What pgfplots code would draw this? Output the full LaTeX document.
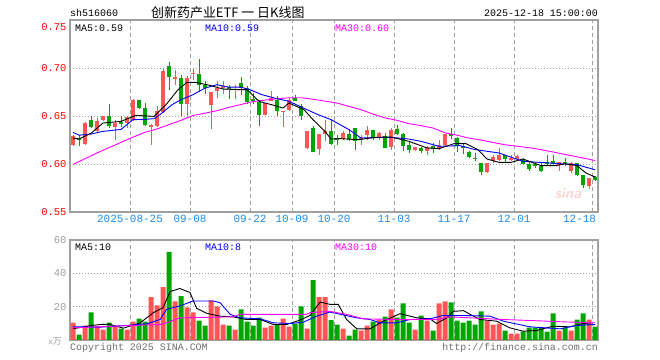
\documentclass[border=0pt]{standalone}
\usepackage{fontspec}
\setmainfont{Liberation Mono}
\newfontfamily\cjk{Noto Sans CJK SC}
\usepackage{pgfplots}
\usepackage{pgfplotstable}
\pgfplotsset{compat=1.18}
\definecolor{kred}{RGB}{255,85,85}
\definecolor{kgreen}{RGB}{0,165,0}
\definecolor{frm}{RGB}{160,160,160}
\definecolor{datec}{RGB}{30,140,230}
\definecolor{mathirty}{RGB}{255,0,255}
\definecolor{maten}{RGB}{0,0,255}

\pgfplotstableread{
i o h l c v
0 0.620 0.630 0.619 0.629 10.5
2 0.621 0.644 0.620 0.643 8.7
4 0.634 0.648 0.633 0.645 8.3
5 0.6455 0.650 0.645 0.6497 6.3
7 0.6385 0.646 0.625 0.643 8.1
9 0.643 0.650 0.638 0.649 6.3
10 0.646 0.668 0.645 0.667 11.1
13 0.6395 0.642 0.620 0.640 25.7
14 0.640 0.660 0.639 0.655 20.8
15 0.654 0.699 0.653 0.6965 31.7
17 0.689 0.698 0.682 0.691 23.2
19 0.663 0.692 0.650 0.690 19.6
20 0.694 0.700 0.688 0.695 16.6
23 0.661 0.675 0.6365 0.675 23.8
24 0.676 0.686 0.669 0.679 20.2
25 0.679 0.686 0.673 0.681 9.3
27 0.677 0.682 0.668 0.6785 6.3
32 0.6513 0.6635 0.6506 0.6635 7.5
33 0.666 0.6764 0.6652 0.6687 8.7
35 0.655 0.6555 0.639 0.6555 12.9
36 0.6566 0.6687 0.6555 0.667 8.1
39 0.6166 0.6347 0.616 0.6347 6.9
41 0.616 0.6312 0.6097 0.6312 25.7
42 0.6312 0.646 0.6236 0.634 25.7
45 0.626 0.634 0.625 0.6323 6.9
48 0.6261 0.6298 0.6203 0.6285 5.7
49 0.6297 0.6395 0.6253 0.6349 8.7
51 0.6267 0.6330 0.6253 0.6323 12.3
53 0.6172 0.6375 0.6149 0.6358 18.4
57 0.6147 0.6177 0.6135 0.6174 6.3
59 0.6132 0.6184 0.6093 0.6176 11.7
61 0.6156 0.6253 0.6149 0.6195 22.0
62 0.6201 0.6312 0.6191 0.6313 23.2
69 0.5920 0.6010 0.5909 0.6010 11.7
70 0.6030 0.6097 0.6010 0.6072 9.3
71 0.6040 0.6166 0.6030 0.6097 9.9
73 0.6040 0.6097 0.6027 0.6065 3.8
74 0.6052 0.6097 0.6027 0.6080 3.8
81 0.5993 0.6020 0.5923 0.6017 5.7
83 0.5925 0.6020 0.5906 0.6010 5.7
86 0.5770 0.5854 0.5743 0.5850 12.3
}\upT

\pgfplotstableread{
i o h l c v
1 0.627 0.630 0.619 0.626 3.2
3 0.646 0.650 0.637 0.6385 16.6
6 0.6497 0.662 0.638 0.640 10.5
8 0.6435 0.650 0.639 0.6425 6.9
11 0.667 0.667 0.657 0.658 12.9
12 0.658 0.664 0.640 0.641 11.1
16 0.702 0.706 0.677 0.691 52.9
18 0.690 0.693 0.650 0.663 26.3
21 0.694 0.709 0.675 0.682 11.7
22 0.682 0.686 0.673 0.679 8.7
26 0.680 0.682 0.668 0.678 8.7
28 0.684 0.691 0.672 0.6795 18.4
29 0.6795 0.681 0.663 0.665 11.1
30 0.6672 0.6735 0.6625 0.6665 8.7
31 0.665 0.667 0.640 0.6515 13.5
34 0.667 0.6705 0.6496 0.6548 9.3
37 0.6687 0.6722 0.6652 0.666 9.9
38 0.660 0.6625 0.646 0.650 20.2
40 0.638 0.640 0.613 0.613 36.0
43 0.634 0.6472 0.620 0.6212 11.9
44 0.627 0.6305 0.620 0.626 9.3
46 0.6316 0.6364 0.6236 0.6262 2.6
47 0.6375 0.6375 0.6142 0.6236 6.3
50 0.6349 0.6351 0.6253 0.6275 11.1
52 0.6290 0.6323 0.6167 0.6170 14.1
54 0.6368 0.6410 0.6305 0.6316 13.5
55 0.6314 0.6323 0.6132 0.6184 22.0
56 0.6201 0.6236 0.6115 0.6149 10.5
58 0.6165 0.6174 0.6115 0.6136 14.7
60 0.6183 0.6220 0.6115 0.6156 5.7
63 0.6313 0.6380 0.6262 0.6290 22.6
64 0.6275 0.6278 0.6130 0.6190 11.7
65 0.6185 0.6219 0.6100 0.6175 10.5
66 0.6128 0.6132 0.6062 0.6076 11.7
67 0.6062 0.6114 0.6030 0.6056 9.3
68 0.6010 0.6010 0.5885 0.5920 17.2
72 0.6092 0.6097 0.6012 0.6052 5.7
75 0.6041 0.6062 0.5999 0.6005 5.1
76 0.6000 0.6027 0.5923 0.5947 7.5
77 0.5999 0.6010 0.5957 0.5978 7.5
78 0.5982 0.6010 0.5916 0.5925 7.5
79 0.6017 0.6097 0.5983 0.6000 5.1
80 0.6030 0.6090 0.5995 0.6005 16.0
82 0.6024 0.6063 0.5976 0.6010 7.5
84 0.6010 0.6015 0.5878 0.5889 12.3
85 0.5889 0.5889 0.5750 0.5778 16.0
87 0.5860 0.5878 0.5819 0.5830 8.1
}\downT

\pgfplotsset{
  kframe/.style={
    scale only axis,
    width=528bp, xmin=-0.5, xmax=87.5,
    axis line style={frm, line width=1.2bp},
    major tick length=0pt,
    xtick={9.5,19.5,29.5,36.5,43.5,53.5,63.5,73.5,86.6},
    xmajorgrids, ymajorgrids,
    x grid style={frm, line width=0.8bp, dash pattern=on 4bp off 3bp},
    y grid style={frm, line width=0.8bp, dash pattern=on 1bp off 2bp},
    tick label style={font=\fontsize{10.5}{12}\selectfont},
  },
  candle/.style={draw=none, mark=none, forget plot,
    error bars/y dir=both, error bars/y explicit, error bars/error mark=none,
    error bars/error bar style={draw=#1, line width=1bp, line cap=butt}},
  body/.style={draw=none, mark=none, forget plot,
    error bars/y dir=both, error bars/y explicit, error bars/error mark=none,
    error bars/error bar style={draw=#1, line width=4.6bp, line cap=butt}},
}

\begin{document}
\begin{tikzpicture}
\fill[white] (0bp,0bp) rectangle (660bp,360bp);
\useasboundingbox (0bp,0bp) rectangle (660bp,360bp);

% ---------- price panel ----------
\begin{axis}[kframe, at={(70bp,148bp)}, anchor=south west, height=192bp,
  ymin=0.55, ymax=0.75,
  ytick={0.55,0.60,0.65,0.70}, yticklabels={0.55,0.60,0.65,0.70},
  extra y ticks={0.75}, extra y tick labels={0.75},
  extra y tick style={yticklabel style={yshift=-7bp}},
  yticklabel style={text=red},
  xticklabels={2025-08-25,09-08,09-22,10-09,10-20,11-03,11-17,12-01,\hspace*{-26bp}12-18},
  xticklabel style={text=datec, font=\fontsize{11}{12}\selectfont},
]
% wicks
\addplot[candle=kred]
  table[x=i, y expr={(\thisrow{h}+\thisrow{l})/2}, y error expr={(\thisrow{h}-\thisrow{l})/2}] {\upT};
\addplot[candle=kgreen]
  table[x=i, y expr={(\thisrow{h}+\thisrow{l})/2}, y error expr={(\thisrow{h}-\thisrow{l})/2}] {\downT};
% bodies
\addplot[body=kred]
  table[x=i, y expr={(\thisrow{o}+\thisrow{c})/2}, y error expr={max(abs(\thisrow{c}-\thisrow{o})/2,0.0004)}] {\upT};
\addplot[body=kgreen]
  table[x=i, y expr={(\thisrow{o}+\thisrow{c})/2}, y error expr={max(abs(\thisrow{c}-\thisrow{o})/2,0.0004)}] {\downT};
% MA30
\addplot[mathirty, line width=0.9bp, mark=none] coordinates {
(0,0.5995)(2,0.6055)(4,0.6115)(6,0.617)(8,0.6225)(10,0.628)(12,0.633)(14,0.6365)
(16,0.641)(18,0.6455)(20,0.6505)(22,0.653)(24,0.6555)(26,0.659)(28,0.662)(30,0.665)
(32,0.6665)(34,0.668)(36,0.669)(38,0.669)(40,0.6675)(42,0.6655)(44,0.6635)(46,0.660)
(48,0.6566)(50,0.652)(52,0.648)(54,0.6455)(56,0.642)(58,0.640)(60,0.6375)(62,0.6325)
(64,0.630)(66,0.627)(68,0.625)(70,0.6225)(72,0.620)(74,0.6185)(76,0.617)(78,0.615)
(80,0.6125)(82,0.610)(84,0.6075)(86,0.605)(87,0.6035)};
% MA10
\addplot[maten, line width=0.9bp, mark=none] coordinates {
(0,0.633)(1,0.630)(3,0.6312)(5,0.634)(8,0.636)(10,0.6462)(12,0.6465)(13.5,0.6472)
(14.5,0.6514)(16.5,0.6618)(18,0.667)(20,0.6722)(22,0.679)(24,0.6826)(26,0.680)(28,0.680)
(29.5,0.6774)(31.5,0.6722)(34,0.668)(36,0.6653)(39,0.6566)(41,0.651)(43,0.6462)(46,0.6358)
(48,0.627)(50,0.6275)(53,0.6278)(56,0.626)(58,0.6236)(61,0.6184)(64.5,0.6191)(67,0.615)
(71,0.6115)(75,0.6028)(79.5,0.601)(84,0.5993)(87,0.594)};
% MA5
\addplot[black, line width=0.9bp, mark=none] coordinates {
(0,0.627)(1,0.626)(3,0.632)(5,0.6427)(8,0.6444)(10.5,0.6507)(13.5,0.6496)(15.5,0.6618)
(17.5,0.6774)(19,0.685)(20.5,0.685)(23,0.6816)(25,0.6781)(28,0.6774)(29,0.6774)(31,0.6653)
(33.5,0.6611)(35,0.6583)(36,0.6635)(38.5,0.6566)(40,0.6462)(42,0.634)(43,0.626)(44.5,0.6264)
(47.5,0.6253)(50.5,0.6278)(53,0.6281)(56,0.6236)(59,0.6167)(61,0.616)(63.5,0.6212)(65.5,0.6212)
(67.5,0.6149)(69,0.6052)(71,0.6017)(73,0.6017)(75,0.6052)(78,0.5983)(80.5,0.5983)(82,0.6003)
(84,0.5983)(85.5,0.5906)(87,0.5865)};
\end{axis}

% ---------- volume panel ----------
\begin{axis}[kframe, at={(70bp,20bp)}, anchor=south west, height=100bp,
  ymin=0, ymax=60,
  ytick={20,40,60}, yticklabels={20,40,60},
  yticklabel style={text=frm},
  xticklabels={},
]
\addplot[ybar, bar width=5bp, bar shift=0pt, fill=kred, draw=none] table[x=i, y=v] {\upT};
\addplot[ybar, bar width=5bp, bar shift=0pt, fill=kgreen, draw=none] table[x=i, y=v] {\downT};
\addplot[black, line width=0.9bp, mark=none] coordinates {
(0,6.7)(2.3,8.3)(4.5,9.3)(6,9.5)(8.4,7.1)(11.2,10.3)(13.4,16.4)(15,19.4)(16.2,29.1)
(17.8,30.9)(19.5,28.5)(20.6,19)(22.3,16)(24.5,14.3)(26.7,13.9)(28.9,12.3)(31.2,12.3)
(33.4,9.3)(35.6,9.3)(37.8,11.9)(39.5,14.7)(41.2,22.8)(42.8,21.4)(44.2,21.4)(45.6,12.3)
(47.3,6.7)(49.5,6.7)(51.7,11.3)(54.5,15.8)(57.3,13.3)(59.5,12.7)(60.6,9.9)(62.3,13.3)
(63.4,17.2)(65.1,17.6)(66.2,15.4)(67.8,12.3)(70.6,11.3)(72.8,7.3)(75,5.3)(77.3,5.7)
(80,8.3)(82.8,7.9)(85,9.9)(87,9.3)};
\addplot[maten, line width=0.9bp, mark=none] coordinates {
(0,7.9)(4.5,7.7)(9.5,8.9)(12.3,9.7)(14.5,12.3)(15.6,18.4)(17.8,20.4)(20,23.4)(23.4,23.4)
(24.5,22.4)(26.2,15.4)(27.8,13.3)(31.2,12.7)(33.4,10.3)(36.2,9.9)(38.4,10.7)(40.6,14.3)
(42.8,16.8)(44.6,15.4)(47.3,13.3)(49.5,12.3)(51.2,10.3)(53.9,10.3)(56.2,12.3)(59.5,12.7)
(61.7,14.7)(65.1,14.7)(69.5,14.3)(71.7,11.3)(76.2,7.9)(81.2,6.7)(83.9,8.7)(87,9.3)};
\addplot[mathirty, line width=0.9bp, mark=none] coordinates {
(0,7.3)(11.2,8.9)(14.5,9.3)(15.6,10.3)(17.8,13.3)(26.7,13.9)(27.8,15.4)(38.9,15.4)
(39.5,16.4)(42.8,17.2)(45.6,15.4)(48.4,12.7)(53.9,12.3)(60.6,12.3)(62.8,13.9)(66.2,13.3)
(71.7,12.3)(76.2,11.7)(81.7,10.9)(87,10.3)};
\end{axis}

% ---------- texts ----------
\begin{scope}[every node/.style={inner sep=0pt, font=\fontsize{10}{12}\selectfont}]
\node[anchor=west] at (70bp,347bp) {sh516060};
\node[anchor=west, font=\cjk\fontsize{13}{14}\selectfont] at (151bp,347bp) {创新药产业ETF 一 日K线图};
\node[anchor=east] at (598bp,347bp) {2025-12-18 15:00:00};
\node[anchor=west] at (75bp,332bp) {MA5:0.59};
\node[anchor=west, text=maten] at (205bp,332bp) {MA10:0.59};
\node[anchor=west, text=mathirty] at (335bp,332bp) {MA30:0.60};
\node[anchor=west] at (75bp,113bp) {MA5:10};
\node[anchor=west, text=maten] at (205bp,113bp) {MA10:8};
\node[anchor=west, text=mathirty] at (335bp,113bp) {MA30:10};
\node[anchor=west, text=frm] at (48bp,19bp) {{\fontsize{8}{8}\selectfont x}{\cjk\fontsize{9}{9}\selectfont 万}};
\node[anchor=west, text=frm!70!black] at (70bp,12bp) {Copyright 2025 SINA.COM};
\node[anchor=east, text=frm!70!black] at (598bp,12bp) {http://finance.sina.com.cn};
\node[anchor=center, text=kred!25, font=\sffamily\bfseries\itshape\fontsize{15}{15}\selectfont] at (568bp,166bp) {sina};
\end{scope}
\end{tikzpicture}
\end{document}
